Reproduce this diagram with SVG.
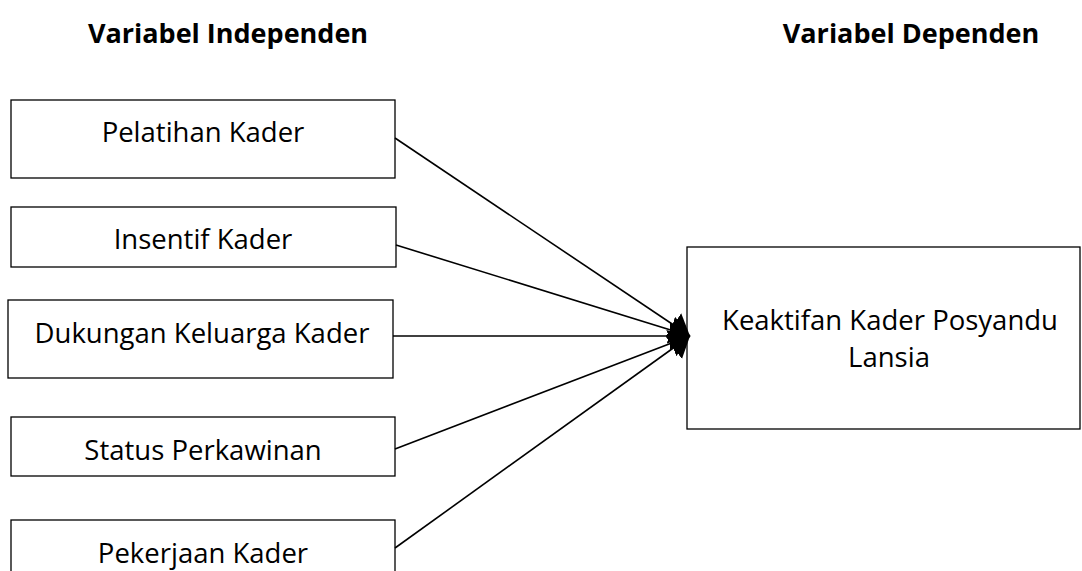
<svg xmlns="http://www.w3.org/2000/svg" width="1082" height="571" viewBox="0 0 1082 571">
<style>
.box{fill:#fff;stroke:#000;stroke-width:1.3}
.t{font-family:"Open Sans","Liberation Sans",sans-serif;font-size:27.5px;fill:#000;text-anchor:middle}
.h{font-family:"Open Sans","Liberation Sans",sans-serif;font-size:27px;font-weight:bold;fill:#000;text-anchor:middle}
.c{stroke:#000;stroke-width:1.6;fill:none;marker-end:url(#ah)}
</style>
<defs>
<marker id="ah" markerUnits="userSpaceOnUse" viewBox="0 0 20 28" refX="20" refY="14" markerWidth="20" markerHeight="28" orient="auto">
<path d="M0,0 L20,14 L0,28 Z" fill="#000"/>
</marker>
</defs>
<rect width="1082" height="571" fill="#fff"/>
<text class="h" x="228" y="43">Variabel Independen</text>
<text class="h" x="911" y="43">Variabel Dependen</text>
<g id="n1"><rect class="box" x="11" y="100" width="384" height="78"/><text class="t" x="203" y="142">Pelatihan Kader</text></g>
<g id="n2"><rect class="box" x="11" y="207" width="385" height="60"/><text class="t" x="203" y="249">Insentif Kader</text></g>
<g id="n3"><rect class="box" x="8" y="300" width="385" height="78"/><text class="t" x="202" y="343">Dukungan Keluarga Kader</text></g>
<g id="n4"><rect class="box" x="11" y="417" width="384" height="59"/><text class="t" x="203" y="460">Status Perkawinan</text></g>
<g id="n5"><rect class="box" x="11" y="520" width="384" height="60"/><text class="t" x="203" y="563">Pekerjaan Kader</text></g>
<g id="n6"><rect class="box" x="687" y="247" width="393" height="182"/><text class="t" x="890" y="330">Keaktifan Kader Posyandu</text><text class="t" x="889" y="367">Lansia</text></g>
<g id="connectors">
<line class="c" x1="395" y1="138" x2="690" y2="336"/>
<line class="c" x1="396" y1="245" x2="690" y2="336"/>
<line class="c" x1="393" y1="336" x2="690" y2="336"/>
<line class="c" x1="395" y1="449" x2="690" y2="336"/>
<line class="c" x1="395" y1="548" x2="690" y2="336"/>
</g>
</svg>
